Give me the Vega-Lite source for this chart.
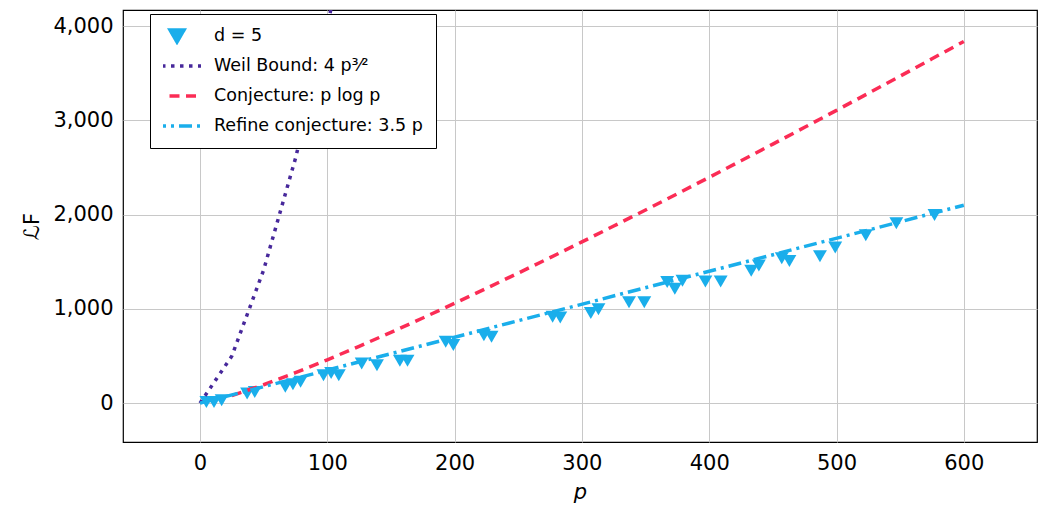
{
  "$schema": "https://vega.github.io/schema/vega-lite/v6.json",
  "width": 914,
  "height": 432,
  "autosize": {"type": "none"},
  "padding": {"left": 123, "top": 10, "right": 1, "bottom": 64},
  "config": {
    "view": {"stroke": "black", "strokeWidth": 1.2},
    "font": "DejaVu Sans",
    "axis": {
      "grid": true, "gridColor": "#c8c8c8", "gridWidth": 1,
      "domain": false, "ticks": false,
      "labelFont": "DejaVu Sans", "labelFontSize": 21, "labelColor": "black",
      "titleFont": "DejaVu Sans", "titleFontSize": 21, "titleFontWeight": "normal", "titleColor": "black"
    },
    "legend": {
      "title": null,
      "orient": "none", "legendX": 27, "legendY": 4,
      "fillColor": "white", "strokeColor": "black",
      "padding": 13, "rowPadding": 12,
      "labelFont": "DejaVu Sans", "labelFontSize": 17.5, "labelColor": "black", "labelLimit": 400,
      "labelOffset": 11, "symbolOffset": -12,
      "symbolSize": 2304, "symbolStrokeWidth": 3.5, "clipHeight": 18, "symbolOpacity": 1
    }
  },
  "datasets": {
    "pts": [
      {"series": "d = 5", "p": 5, "L": 12},
      {"series": "d = 5", "p": 11, "L": 12},
      {"series": "d = 5", "p": 17, "L": 32},
      {"series": "d = 5", "p": 37, "L": 103},
      {"series": "d = 5", "p": 43, "L": 118},
      {"series": "d = 5", "p": 67, "L": 173},
      {"series": "d = 5", "p": 73, "L": 202},
      {"series": "d = 5", "p": 79, "L": 226},
      {"series": "d = 5", "p": 97, "L": 297},
      {"series": "d = 5", "p": 103, "L": 320},
      {"series": "d = 5", "p": 109, "L": 297},
      {"series": "d = 5", "p": 127, "L": 421},
      {"series": "d = 5", "p": 139, "L": 403},
      {"series": "d = 5", "p": 157, "L": 449},
      {"series": "d = 5", "p": 163, "L": 449},
      {"series": "d = 5", "p": 193, "L": 651},
      {"series": "d = 5", "p": 199, "L": 616},
      {"series": "d = 5", "p": 223, "L": 722},
      {"series": "d = 5", "p": 229, "L": 704},
      {"series": "d = 5", "p": 277, "L": 918},
      {"series": "d = 5", "p": 283, "L": 908},
      {"series": "d = 5", "p": 307, "L": 958},
      {"series": "d = 5", "p": 313, "L": 996},
      {"series": "d = 5", "p": 337, "L": 1072},
      {"series": "d = 5", "p": 349, "L": 1072},
      {"series": "d = 5", "p": 367, "L": 1287},
      {"series": "d = 5", "p": 373, "L": 1214},
      {"series": "d = 5", "p": 379, "L": 1300},
      {"series": "d = 5", "p": 397, "L": 1292},
      {"series": "d = 5", "p": 409, "L": 1292},
      {"series": "d = 5", "p": 433, "L": 1404},
      {"series": "d = 5", "p": 439, "L": 1460},
      {"series": "d = 5", "p": 457, "L": 1538},
      {"series": "d = 5", "p": 463, "L": 1509},
      {"series": "d = 5", "p": 487, "L": 1560},
      {"series": "d = 5", "p": 499, "L": 1653},
      {"series": "d = 5", "p": 523, "L": 1783},
      {"series": "d = 5", "p": 547, "L": 1908},
      {"series": "d = 5", "p": 577, "L": 1996}
    ],
    "curves": [
      {"series": "Weil Bound: 4 p³⁄²", "p": 0, "L": 0},
      {"series": "Weil Bound: 4 p³⁄²", "p": 25, "L": 500},
      {"series": "Weil Bound: 4 p³⁄²", "p": 50, "L": 1414.21},
      {"series": "Weil Bound: 4 p³⁄²", "p": 75, "L": 2598.08},
      {"series": "Weil Bound: 4 p³⁄²", "p": 100, "L": 4000},
      {"series": "Weil Bound: 4 p³⁄²", "p": 125, "L": 5590.17},
      {"series": "Conjecture: p log p", "p": 25, "L": 80.47},
      {"series": "Conjecture: p log p", "p": 50, "L": 195.6},
      {"series": "Conjecture: p log p", "p": 75, "L": 323.81},
      {"series": "Conjecture: p log p", "p": 100, "L": 460.52},
      {"series": "Conjecture: p log p", "p": 125, "L": 603.54},
      {"series": "Conjecture: p log p", "p": 150, "L": 751.6},
      {"series": "Conjecture: p log p", "p": 175, "L": 903.84},
      {"series": "Conjecture: p log p", "p": 200, "L": 1059.66},
      {"series": "Conjecture: p log p", "p": 225, "L": 1218.63},
      {"series": "Conjecture: p log p", "p": 250, "L": 1380.37},
      {"series": "Conjecture: p log p", "p": 275, "L": 1544.62},
      {"series": "Conjecture: p log p", "p": 300, "L": 1711.13},
      {"series": "Conjecture: p log p", "p": 325, "L": 1879.74},
      {"series": "Conjecture: p log p", "p": 350, "L": 2050.27},
      {"series": "Conjecture: p log p", "p": 375, "L": 2222.6},
      {"series": "Conjecture: p log p", "p": 400, "L": 2396.59},
      {"series": "Conjecture: p log p", "p": 425, "L": 2572.16},
      {"series": "Conjecture: p log p", "p": 450, "L": 2749.15},
      {"series": "Conjecture: p log p", "p": 475, "L": 2927.58},
      {"series": "Conjecture: p log p", "p": 500, "L": 3107.3},
      {"series": "Conjecture: p log p", "p": 525, "L": 3288.29},
      {"series": "Conjecture: p log p", "p": 550, "L": 3470.45},
      {"series": "Conjecture: p log p", "p": 575, "L": 3653.78},
      {"series": "Conjecture: p log p", "p": 600, "L": 3838.15},
      {"series": "Refine conjecture: 3.5 p", "p": 0, "L": 0},
      {"series": "Refine conjecture: 3.5 p", "p": 200, "L": 700},
      {"series": "Refine conjecture: 3.5 p", "p": 400, "L": 1400},
      {"series": "Refine conjecture: 3.5 p", "p": 600, "L": 2100}
    ]
  },
  "layer": [
    {
      "data": {"name": "pts"},
      "mark": {"type": "point", "filled": true, "size": 2304, "opacity": 1},
      "encoding": {
        "x": {
          "field": "p", "type": "quantitative",
          "scale": {"domain": [-60.5, 657.5], "nice": false, "zero": false},
          "axis": {"values": [0, 100, 200, 300, 400, 500, 600], "title": "p", "titleFontStyle": "italic", "labelPadding": 10, "titlePadding": 8}
        },
        "y": {
          "field": "L", "type": "quantitative",
          "scale": {"domain": [-412, 4172], "nice": false, "zero": false},
          "axis": {"values": [0, 1000, 2000, 3000, 4000], "format": ",.0f", "title": "ℒF", "labelPadding": 10, "titlePadding": 10}
        },
        "color": {
          "field": "series", "type": "nominal",
          "scale": {
            "domain": ["d = 5", "Weil Bound: 4 p³⁄²", "Conjecture: p log p", "Refine conjecture: 3.5 p"],
            "range": ["#1aaeeb", "#47289b", "#fb2c55", "#1aaeeb"]
          },
          "legend": {"title": null}
        },
        "shape": {
          "field": "series", "type": "nominal",
          "scale": {
            "domain": ["d = 5", "Weil Bound: 4 p³⁄²", "Conjecture: p log p", "Refine conjecture: 3.5 p"],
            "range": ["M0,0.25L0.29,-0.25L-0.29,-0.25Z", "M-1,0L1,0", "M-1,0L1,0", "M-1,0L1,0"]
          },
          "legend": {"title": null}
        }
      }
    },
    {
      "data": {"name": "curves"},
      "mark": {"type": "line", "strokeWidth": 3.5, "clip": true},
      "encoding": {
        "x": {"field": "p", "type": "quantitative"},
        "y": {"field": "L", "type": "quantitative"},
        "color": {"field": "series", "type": "nominal"},
        "strokeDash": {
          "field": "series", "type": "nominal",
          "scale": {
            "domain": ["d = 5", "Weil Bound: 4 p³⁄²", "Conjecture: p log p", "Refine conjecture: 3.5 p"],
            "range": [[1, 0], [3.5, 5.5], [10, 6.5], [13, 5, 3, 5]]
          },
          "legend": {"title": null}
        },
        "order": {"field": "p", "type": "quantitative"}
      }
    }
  ]
}
